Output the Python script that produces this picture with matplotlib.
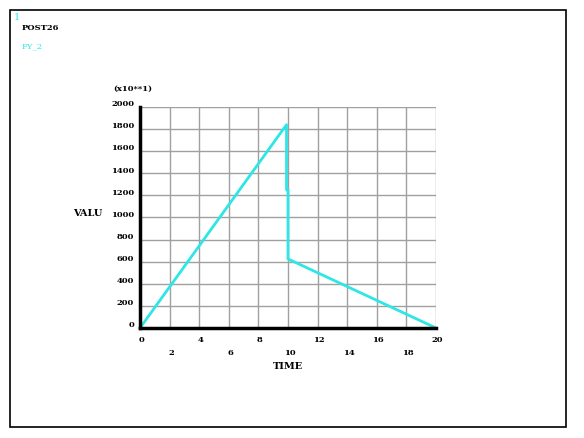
import numpy as np
import matplotlib
matplotlib.use("Agg")
import matplotlib.pyplot as plt
from matplotlib.patches import Rectangle

# data (values in x10**1)
time = [0, 9.9, 9.9, 10.0, 10.0, 20.0]
valu = [0, 1840, 1250, 1250, 625, 0]

xticks = [0, 2, 4, 6, 8, 10, 12, 14, 16, 18, 20]
yticks = [0, 200, 400, 600, 800, 1000, 1200, 1400, 1600, 1800, 2000]

cyan = "#2ee6e6"
fnt = dict(family="DejaVu Serif", fontsize=6, fontweight="bold")

fig = plt.figure(figsize=(5.84, 4.38), dpi=100)
fig.patch.set_facecolor("white")

# outer window frame
fig.patches.append(Rectangle((10 / 584, 1 - 427 / 438), 556 / 584, 417 / 438,
                             transform=fig.transFigure, fill=False,
                             edgecolor="black", linewidth=1.2))

ax = fig.add_axes([140 / 584, 1 - 328 / 438, 296 / 584, 221 / 438])
ax.set_xlim(0, 20)
ax.set_ylim(0, 2000)

for x in xticks[1:]:
    ax.axvline(x, color="#a0a0a0", lw=1, zorder=1)
for y in yticks[1:]:
    ax.axhline(y, color="#a0a0a0", lw=1, zorder=1)

ax.plot(time, valu, color=cyan, lw=2, zorder=3, clip_on=False)

for s in ["top", "right"]:
    ax.spines[s].set_visible(False)
ax.spines["left"].set_linewidth(2.5)
ax.spines["bottom"].set_linewidth(2.5)
ax.spines["left"].set_zorder(4)
ax.spines["bottom"].set_zorder(4)
ax.set_xticks([])
ax.set_yticks([])

# y tick labels
ytr = ax.get_yaxis_transform()
for y in yticks:
    ax.text(-0.02, y + 25, str(y), transform=ytr, ha="right", va="center", **fnt)

# x tick labels in two staggered rows
xtr = ax.get_xaxis_transform()
for i, x in enumerate(xticks):
    off = -0.055 if i % 2 == 0 else -0.115
    ax.text(x + 0.1, off, str(x), transform=xtr, ha="center", va="center", **fnt)

ax.text(0.5, -0.175, "TIME", transform=ax.transAxes, ha="center", va="center",
        family="DejaVu Serif", fontsize=7, fontweight="bold")
ax.text(-0.175, 0.52, "VALU", transform=ax.transAxes, ha="center", va="center",
        family="DejaVu Serif", fontsize=7, fontweight="bold")
ax.text(-0.09, 1.08, "(x10**1)", transform=ax.transAxes, ha="left", va="center", **fnt)

fig.text(14 / 584, 1 - 17 / 438, "1", color=cyan, ha="left", va="center",
         family="DejaVu Serif", fontsize=7)
fig.text(22 / 584, 1 - 28 / 438, "POST26", color="black", ha="left", va="center", **fnt)
fig.text(22 / 584, 1 - 46 / 438, "FY_2", color=cyan, ha="left", va="center",
         family="DejaVu Serif", fontsize=6)

fig.savefig("out.png", dpi=100)
